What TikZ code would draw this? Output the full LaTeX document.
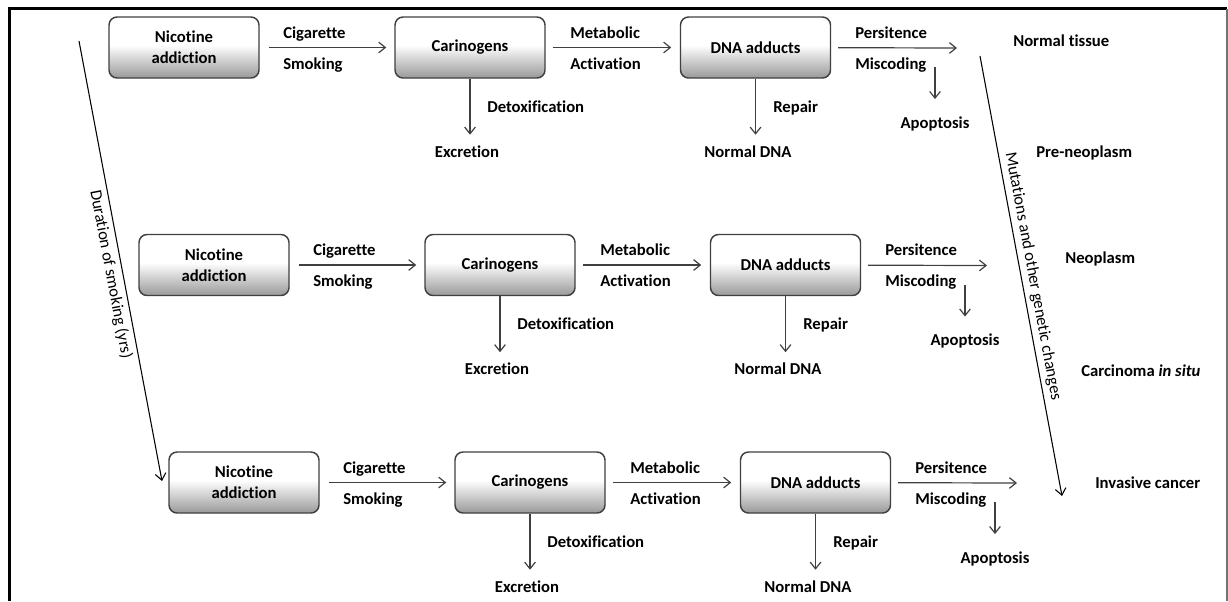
\documentclass[tikz,border=0pt]{standalone}
\usepackage{fontspec}
\setmainfont{Carlito}[Ligatures={NoCommon}]
\usetikzlibrary{arrows.meta,calc}

\definecolor{boxlow}{gray}{0.60}
\definecolor{boxedge}{gray}{0.25}
\definecolor{arrowgray}{gray}{0.25}
\definecolor{rightrule}{gray}{0.45}

% white top fading into grey towards the bottom of each box
\pgfdeclareverticalshading{boxshade}{100bp}{color(0bp)=(boxlow); color(25bp)=(boxlow); color(52bp)=(white); color(100bp)=(white)}

\newcommand{\basefont}{\fontsize{12.5}{15.5}\selectfont}

\tikzset{
  stagebox/.style={draw=boxedge, line width=1.1pt, rounded corners=6pt, shading=boxshade,
    minimum width=112.5pt, minimum height=45.75pt, align=center, inner sep=2pt,
    font=\basefont\bfseries},
  txt/.style={font=\basefont\bfseries, inner sep=0pt, text height=8.5pt, text depth=2.5pt},
  lbl/.style={txt, anchor=west},
  arr/.style={draw=arrowgray, line width=0.9pt, -{Straight Barb[length=5pt,width=8pt]}},
  axisline/.style={draw=black, line width=0.8pt, -{Straight Barb[length=5pt,width=8pt]}},
  axistext/.style={font=\basefont, inner sep=3pt}
}

\begin{document}
\begin{tikzpicture}[x=0.75pt,y=-0.75pt]
\useasboundingbox (0,0) rectangle (1228,601);

% frame
\draw[line width=2.3pt] (1227,8.5) -- (9.5,8.5) -- (9.5,601);
\draw[rightrule, line width=1pt] (1227,8.5) -- (1227,601);

% three copies of the pathway, each shifted right and down
\foreach \r/\dx/\dy in {1/0/0, 2/30/217.5, 3/60/435} {
  \begin{scope}[shift={(\dx,\dy)}]
    \node[stagebox] (n\r) at (184,47.5) {Nicotine\\addiction};
    \node[stagebox] (c\r) at (470,47.5) {Carinogens};
    \node[stagebox] (d\r) at (755.5,47.5) {DNA adducts};

    \draw[arr, shorten <=6.75pt, shorten >=6pt] (n\r) -- (c\r);
    \node[lbl] (cig\r) at (283,34) {Cigarette};
    \node[lbl] (smk\r) at (283,65) {Smoking};

    \draw[arr, shorten <=5.25pt, shorten >=6.4pt] (c\r) -- (d\r);
    \node[lbl] (met\r) at (570,34) {Metabolic};
    \node[lbl] (act\r) at (570,65) {Activation};

    \node[txt] (exc\r) at (467,153) {Excretion};
    \draw[arr, shorten >=8pt] (c\r.south) -- (c\r.south |- exc\r.north);
    \node[lbl] (det\r) at (487,108) {Detoxification};

    \node[txt] (ndna\r) at (748,153) {Normal DNA};
    \draw[arr, shorten >=8pt] (d\r.south) -- (d\r.south |- ndna\r.north);
    \node[lbl] (rep\r) at (773,108) {Repair};

    \coordinate (pe\r) at (957,48);
    \draw[arr, shorten <=5.25pt] (d\r) -- (pe\r);
    \node[lbl] (per\r) at (855,34) {Persitence};
    \node[lbl] (mis\r) at (855,65) {Miscoding};

    \node[txt] (apo\r) at (935,124) {Apoptosis};
    \draw[arr, shorten <=1.5pt, shorten >=13pt] (mis\r.east -| apo\r.north) -- (apo\r.north);
  \end{scope}
}

% stages of tissue change
\node[lbl] (st1) at (1013,42) {Normal tissue};
\node[lbl] (st2) at (1036,153) {Pre-neoplasm};
\node[lbl] (st3) at (1065,259) {Neoplasm};
\node[lbl] (st4) at (1081,372) {Carcinoma \textit{in situ}};
\node[lbl] (st5) at (1095,484) {Invasive cancer};

% time axis on the left
\coordinate (durtop) at (79,41);
\coordinate (durbot) at (162,481);
\draw[axisline] (durtop) -- (durbot)
  node[axistext, pos=0.525, sloped, below] (durlabel) {Duration of smoking (yrs)};

% genetic change axis on the right
\coordinate (mutop) at (980,56);
\coordinate (mubot) at (1062,496);
\draw[axisline] (mutop) -- (mubot)
  node[axistext, pos=0.505, sloped, above] (mutlabel) {Mutations and other genetic changes};

\end{tikzpicture}
\end{document}
